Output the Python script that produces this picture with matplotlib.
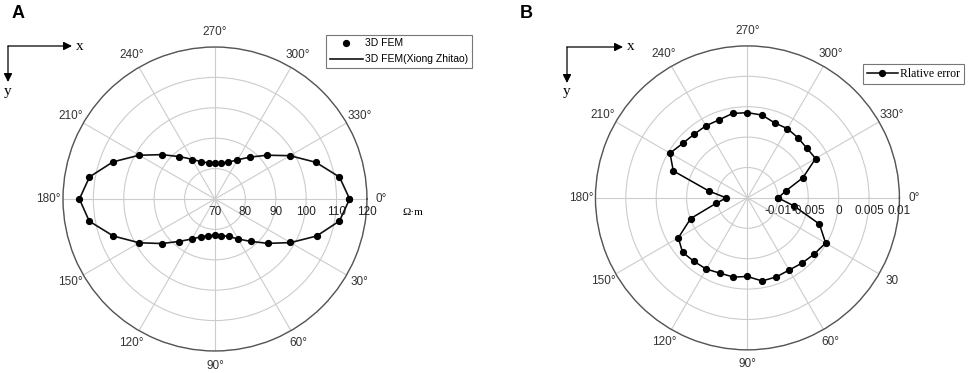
import numpy as np
import matplotlib
matplotlib.use("Agg")
import matplotlib.pyplot as plt
from matplotlib.transforms import offset_copy

# angles in degrees (clockwise from +x, y points down)
angles = [0, 10, 20, 30, 40, 50, 60, 70, 80, 90, 100, 110,
          120, 130, 140, 150, 160, 170, 180, 190, 200, 210, 220, 230,
          240, 250, 260, 270, 280, 290, 300, 310, 320, 330, 340, 350]

# panel A: apparent resistivity (Ohm m)
fem_3d = [114.2, 111.5, 105.6, 98.6, 92.6, 88.2, 85.2, 83.1, 82.2, 81.9, 82.3, 83.3,
          85.3, 88.3, 92.9, 98.9, 105.7, 112.1, 114.8, 112.0, 105.8, 98.9, 92.7, 88.2,
          85.0, 83.0, 82.0, 81.8, 81.9, 82.9, 84.8, 87.9, 92.3, 98.4, 105.2, 111.5]
fem_xiong = [114.3, 111.6, 105.6, 98.7, 92.7, 88.2, 85.2, 83.1, 82.2, 81.9, 82.2, 83.2,
             85.2, 88.2, 92.8, 98.8, 105.6, 112.0, 114.6, 111.9, 105.7, 98.8, 92.7, 88.2,
             85.1, 83.0, 82.1, 81.9, 82.0, 82.9, 84.9, 88.0, 92.4, 98.5, 105.3, 111.6]

# panel B: relative error
rel_error = [-0.00995, -0.00718, -0.0024, -0.00015, -0.00064, -0.0010, -0.00129, -0.00116,
             -0.00112, -0.00207, -0.00177, -0.00182, -0.00147, -0.00135, -0.00107, -0.00187,
             -0.00507, -0.00973, -0.01152, -0.00859, -0.00202, -0.00029, -0.00108, -0.00134,
             -0.00132, -0.00134, -0.0009, -0.00098, -0.00117, -0.00188, -0.00185, -0.00208,
             -0.00226, -0.00205, -0.00529, -0.00864]

theta_labels_a = ["0°", "30°", "60°", "90°", "120°", "150°", "180°", "210°", "240°", "270°", "300°", "330°"]
theta_labels_b = ["0°", "30", "60°", "90°", "120°", "150°", "180°", "210°", "240°", "270°", "300°", "330°"]
r_ticks_a = [70, 80, 90, 100, 110, 120]
r_labels_a = ["70", "80", "90", "100", "110", "120"]
r_ticks_b = [-0.015, -0.01, -0.005, 0, 0.005, 0.01]
r_labels_b = ["", "-0.01", "-0.005", "0", "0.005", "0.01"]

plt.rcParams['font.family'] = ['Liberation Sans', 'DejaVu Sans']

fig = plt.figure(figsize=(9.69, 3.73), dpi=100)


def closed(vals):
    return list(vals) + [vals[0]]


def setup_polar(ax, rlim, rticks, rlabels, tlabels):
    ax.set_theta_zero_location('E')
    ax.set_theta_direction(-1)
    ax.set_ylim(*rlim)
    ax.set_rticks(rticks)
    ax.set_yticklabels([])
    ax.set_thetagrids(range(0, 360, 30), tlabels, fontsize=8.5, color='#333333')
    ax.tick_params(axis='x', pad=0)
    ax.grid(True, color='#cccccc', linewidth=0.8)
    ax.spines['polar'].set_color('#555555')
    ax.spines['polar'].set_linewidth(1.0)
    trans = offset_copy(ax.transData, fig=fig, x=0, y=-5, units='points')
    for r, lab in zip(rticks, rlabels):
        ax.text(0, r, lab, transform=trans, ha='center', va='top', fontsize=8.5, color='#222222')


th = np.deg2rad(closed(angles))

# ---- panel A
axA = fig.add_axes([0.065, 0.059, 0.3137, 0.815], projection='polar')
setup_polar(axA, (70, 120), r_ticks_a, r_labels_a, theta_labels_a)
axA.plot(th, closed(fem_3d), 'o', color='black', markersize=4.2, label='3D FEM', zorder=4)
axA.plot(th, closed(fem_xiong), '-', color='#111111', linewidth=1.2, label='3D FEM(Xiong Zhitao)', zorder=3)
axA.text(1.15, 0.457, 'Ω·m', transform=axA.transAxes, ha='center', va='center',
         fontsize=8, family=['Liberation Serif', 'DejaVu Serif'])
legA = axA.legend(loc='upper left', bbox_to_anchor=(0.865, 1.04), fontsize=7.5, frameon=True,
                  fancybox=False, edgecolor='#555555', handlelength=3.2, borderpad=0.35,
                  labelspacing=0.55, handletextpad=0.2, borderaxespad=0)
legA.get_frame().set_linewidth(0.8)

# ---- panel B
axB = fig.add_axes([0.6145, 0.062, 0.3137, 0.815], projection='polar')
setup_polar(axB, (-0.015, 0.01), r_ticks_b, r_labels_b, theta_labels_b)
axB.plot(th, closed(rel_error), '-o', color='black', markersize=4.2, linewidth=1.1,
         label='Rlative error')
legB = axB.legend(loc='upper left', bbox_to_anchor=(0.88, 0.94), frameon=True, fancybox=False,
                  edgecolor='#555555', handlelength=2.6, borderpad=0.35, handletextpad=0.2,
                  borderaxespad=0, prop={'family': ['Liberation Serif'], 'size': 8.5})
legB.get_frame().set_linewidth(0.8)

# panel letters
fig.text(12 / 969, 1 - 13 / 373, 'A', fontsize=13, fontweight='bold', va='center')
fig.text(520 / 969, 1 - 13 / 373, 'B', fontsize=13, fontweight='bold', va='center')

# coordinate arrows (x to the right, y downward)
for x0, y0, xlen, ylen in [(8, 46, 64, 36), (567, 47, 56, 36)]:
    fx, fy = x0 / 969, 1 - y0 / 373
    fig.add_artist(matplotlib.patches.FancyArrowPatch(
        (fx, fy), ((x0 + xlen) / 969, fy), transform=fig.transFigure,
        arrowstyle='-|>,head_length=5,head_width=2.5', color='black', linewidth=0.9,
        shrinkA=0, shrinkB=0))
    fig.add_artist(matplotlib.patches.FancyArrowPatch(
        (fx, fy), (fx, 1 - (y0 + ylen) / 373), transform=fig.transFigure,
        arrowstyle='-|>,head_length=5,head_width=2.5', color='black', linewidth=0.9,
        shrinkA=0, shrinkB=0))
    fig.text((x0 + xlen + 8) / 969, fy, 'x', fontsize=11, ha='center', va='center',
             family=['Liberation Serif', 'DejaVu Serif'])
    fig.text(fx, 1 - (y0 + ylen + 9) / 373, 'y', fontsize=11, ha='center', va='center',
             family=['Liberation Serif', 'DejaVu Serif'])

fig.savefig('out.png', dpi=100)
